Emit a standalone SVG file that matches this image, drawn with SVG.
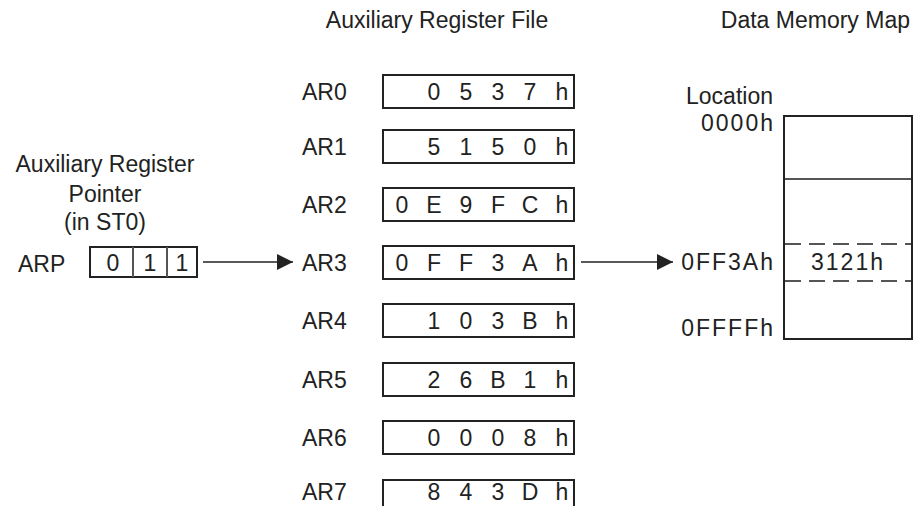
<svg xmlns="http://www.w3.org/2000/svg" width="921" height="506" viewBox="0 0 921 506">
<defs>
<style>
text{font-family:"Liberation Sans",Arial,sans-serif;font-size:23px;fill:#222}
.box{fill:#fff;stroke:#222;stroke-width:2}
.d{text-anchor:middle}
.sp{letter-spacing:2px}
.thin{stroke:#555;stroke-width:2;fill:none}
.dash{stroke:#555;stroke-width:2;stroke-dasharray:16 8;fill:none}
.conn{stroke:#222;stroke-width:1.5;fill:none}
</style>
<marker id="arr" markerWidth="16" markerHeight="16" refX="16" refY="8" orient="auto" markerUnits="userSpaceOnUse">
<path d="M0,0 L16,8 L0,16 Z" fill="#222"/>
</marker>
</defs>
<rect width="921" height="506" fill="#fff"/>
<text x="437" y="28" class="d">Auxiliary Register File</text>
<text x="910" y="28" text-anchor="end">Data Memory Map</text>

<g id="arp">
<text x="105" y="172" class="d">Auxiliary Register</text>
<text x="105" y="202" class="d">Pointer</text>
<text x="105" y="230" class="d">(in ST0)</text>
<text x="18" y="272">ARP</text>
<rect x="90" y="247" width="107" height="30" class="box"/>
<line x1="133" y1="247" x2="133" y2="277" class="thin"/>
<line x1="167" y1="247" x2="167" y2="277" class="thin"/>
<text x="113" y="271" class="d">0</text>
<text x="150" y="271" class="d">1</text>
<text x="182" y="271" class="d">1</text>
</g>

<g id="ar0"><text x="302" y="100">AR0</text><rect x="383" y="75" width="191" height="33" class="box"/>
<text x="434" y="100" class="d">0</text><text x="466" y="100" class="d">5</text><text x="498" y="100" class="d">3</text><text x="530" y="100" class="d">7</text><text x="562" y="100" class="d">h</text></g>
<g id="ar1"><text x="302" y="155">AR1</text><rect x="383" y="130" width="191" height="33" class="box"/>
<text x="434" y="155" class="d">5</text><text x="466" y="155" class="d">1</text><text x="498" y="155" class="d">5</text><text x="530" y="155" class="d">0</text><text x="562" y="155" class="d">h</text></g>
<g id="ar2"><text x="302" y="213">AR2</text><rect x="383" y="188" width="191" height="33" class="box"/>
<text x="402" y="213" class="d">0</text><text x="434" y="213" class="d">E</text><text x="466" y="213" class="d">9</text><text x="498" y="213" class="d">F</text><text x="530" y="213" class="d">C</text><text x="562" y="213" class="d">h</text></g>
<g id="ar3"><text x="302" y="271">AR3</text><rect x="383" y="246" width="191" height="33" class="box"/>
<text x="402" y="271" class="d">0</text><text x="434" y="271" class="d">F</text><text x="466" y="271" class="d">F</text><text x="498" y="271" class="d">3</text><text x="530" y="271" class="d">A</text><text x="562" y="271" class="d">h</text></g>
<g id="ar4"><text x="302" y="329">AR4</text><rect x="383" y="304" width="191" height="33" class="box"/>
<text x="434" y="329" class="d">1</text><text x="466" y="329" class="d">0</text><text x="498" y="329" class="d">3</text><text x="530" y="329" class="d">B</text><text x="562" y="329" class="d">h</text></g>
<g id="ar5"><text x="302" y="388">AR5</text><rect x="383" y="363" width="191" height="33" class="box"/>
<text x="434" y="388" class="d">2</text><text x="466" y="388" class="d">6</text><text x="498" y="388" class="d">B</text><text x="530" y="388" class="d">1</text><text x="562" y="388" class="d">h</text></g>
<g id="ar6"><text x="302" y="446">AR6</text><rect x="383" y="421" width="191" height="33" class="box"/>
<text x="434" y="446" class="d">0</text><text x="466" y="446" class="d">0</text><text x="498" y="446" class="d">0</text><text x="530" y="446" class="d">8</text><text x="562" y="446" class="d">h</text></g>
<g id="ar7"><text x="302" y="500">AR7</text><rect x="383" y="480" width="191" height="40" class="box"/>
<text x="434" y="500" class="d">8</text><text x="466" y="500" class="d">4</text><text x="498" y="500" class="d">3</text><text x="530" y="500" class="d">D</text><text x="562" y="500" class="d">h</text></g>

<g id="memmap">
<text x="773" y="104" text-anchor="end">Location</text>
<text x="775" y="131" text-anchor="end" class="sp">0000h</text>
<rect x="784" y="116" width="128" height="223" class="box"/>
<line x1="785" y1="179" x2="911" y2="179" class="thin"/>
<line x1="785" y1="244" x2="911" y2="244" class="dash"/>
<line x1="785" y1="281" x2="911" y2="281" class="dash"/>
<text x="848" y="270" class="d sp">3121h</text>
<text x="775" y="270" text-anchor="end" class="sp">0FF3Ah</text>
<text x="775" y="336" text-anchor="end" class="sp">0FFFFh</text>
</g>

<g id="connectors">
<line x1="203" y1="262" x2="293" y2="262" class="conn" marker-end="url(#arr)"/>
<line x1="581" y1="262" x2="673" y2="262" class="conn" marker-end="url(#arr)"/>
</g>
</svg>
